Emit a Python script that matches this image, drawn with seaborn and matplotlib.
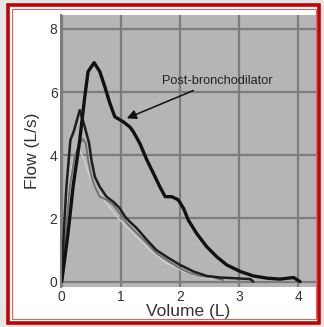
import pandas as pd
import matplotlib.pyplot as plt
import seaborn as sns
from matplotlib.patches import Rectangle

# Curvas fluxo-volume
post_vol = [0, 0.107, 0.192, 0.305, 0.39, 0.446, 0.548, 0.644, 0.729, 0.814, 0.898, 1.04,
            1.15, 1.21, 1.32, 1.44, 1.55, 1.66, 1.75, 1.86, 1.97, 2.06, 2.14, 2.28, 2.45,
            2.62, 2.79, 3.02, 3.24, 3.47, 3.69, 3.92, 4.03]
post_flow = [0, 1.53, 3.0, 4.48, 5.85, 6.65, 6.93, 6.65, 6.17, 5.65, 5.22, 5.06,
             4.90, 4.75, 4.38, 3.85, 3.43, 3.0, 2.69, 2.69, 2.59, 2.32, 1.95, 1.53, 1.11,
             0.79, 0.53, 0.32, 0.18, 0.11, 0.08, 0.13, 0]

pre1_vol = [0, 0.034, 0.079, 0.147, 0.203, 0.305, 0.39, 0.463, 0.503, 0.56, 0.644, 0.757,
            0.87, 0.983, 1.07, 1.15, 1.27, 1.44, 1.60, 1.77, 2.0, 2.23, 2.45, 2.68, 2.90,
            3.19, 3.24]
pre1_flow = [0, 1.53, 3.0, 4.48, 4.75, 5.43, 4.90, 4.38, 3.85, 3.32, 3.0, 2.69,
             2.53, 2.32, 2.06, 1.90, 1.69, 1.32, 1.0, 0.79, 0.53, 0.32, 0.18, 0.13, 0.11,
             0.08, 0]

pre2_vol = [0, 0.068, 0.136, 0.22, 0.305, 0.361, 0.407, 0.446, 0.503, 0.56, 0.644, 0.757,
            0.87, 0.983, 1.10, 1.27, 1.44, 1.60, 1.77, 2.0, 2.17, 2.34, 2.56, 2.73]
pre2_flow = [0, 1.53, 3.0, 3.96, 4.38, 4.51, 4.38, 3.85, 3.32, 3.0, 2.69, 2.59,
             2.43, 2.16, 1.85, 1.53, 1.22, 0.90, 0.69, 0.42, 0.27, 0.18, 0.14, 0.05]

pre3_vol = [0, 0.079, 0.164, 0.277, 0.361, 0.475, 0.588, 0.757, 0.983, 1.21, 1.49, 1.77,
            2.06, 2.34, 2.56]
pre3_flow = [0, 2.06, 3.64, 4.17, 3.96, 3.32, 2.90, 2.48, 1.95, 1.53, 1.0, 0.58,
             0.32, 0.16, 0.08]

x_ticks = [0, 1, 2, 3, 4]
y_ticks = [0, 2, 4, 6, 8]

sns.set_theme(style="whitegrid", rc={
    'axes.facecolor': '#b5b5b5',
    'grid.color': '#7d7d7d',
    'grid.linewidth': 1.6,
    'axes.edgecolor': '#7d7d7d',
})
plt.rcParams['font.family'] = ['Liberation Sans', 'DejaVu Sans']

fig = plt.figure(figsize=(3.24, 3.27), dpi=100)
fig.patch.set_facecolor('#e6e6e6')
# moldura vermelha
fig.patches.append(Rectangle((8 / 324, 4 / 327), 311 / 324, 318 / 327, transform=fig.transFigure,
                             facecolor='white', edgecolor='#c40000', linewidth=2.6, zorder=-10))
fig.patches.append(Rectangle((11.5 / 324, 8 / 327), 304.5 / 324, 310 / 327, transform=fig.transFigure,
                             facecolor='none', edgecolor='#e06060', linewidth=0.8, zorder=-9))

ax = fig.add_axes([61 / 324, 1 - 287 / 327, 255 / 324, 272 / 327])

curvas = [
    (pre3_vol, pre3_flow, '#d0d0d0', 1.0),
    (pre2_vol, pre2_flow, '#6e6e6e', 1.3),
    (pre1_vol, pre1_flow, '#1e1e1e', 1.8),
    (post_vol, post_flow, '#111111', 2.4),
]
for vol, flow, cor, lw in curvas:
    df = pd.DataFrame({'Volume': vol, 'Flow': flow})
    sns.lineplot(data=df, x='Volume', y='Flow', sort=False, color=cor, linewidth=lw, ax=ax)

ax.set_xlim(-0.012, 4.30)
ax.set_ylim(-0.17, 8.44)
ax.set_xticks(x_ticks)
ax.set_yticks(y_ticks)
ax.tick_params(axis='both', length=0, pad=2.5, labelsize=10, labelcolor='#333333')
ax.set_xlabel('Volume (L)', fontsize=12.5, color='#333333', labelpad=0)
ax.set_ylabel('Flow (L/s)', fontsize=12.5, color='#333333', labelpad=7)
for s in ['top', 'right']:
    ax.spines[s].set_visible(False)
ax.spines['left'].set_linewidth(1.5)
ax.spines['bottom'].set_visible(False)

ax.annotate('Post-bronchodilator', xy=(1.10, 5.17), xytext=(1.69, 6.36),
            fontsize=9.2, color='#222222', va='center', ha='left',
            arrowprops=dict(arrowstyle='-|>', color='#111111', lw=1.1, mutation_scale=14,
                            shrinkA=1, shrinkB=0))

fig.savefig('out.png', dpi=100, facecolor=fig.get_facecolor())
